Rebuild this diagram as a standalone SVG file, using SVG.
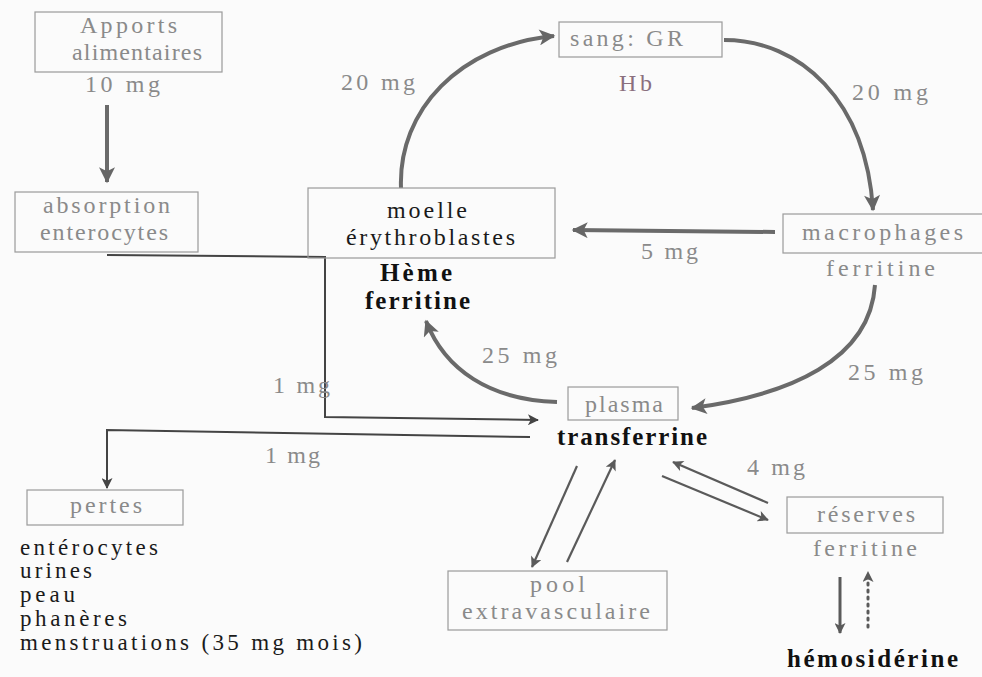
<svg xmlns="http://www.w3.org/2000/svg" width="982" height="677" viewBox="0 0 982 677" font-family="'Liberation Serif', 'Times New Roman', serif">
<defs>
<marker id="big" viewBox="0 0 12 12" refX="11" refY="6" markerWidth="18" markerHeight="16" markerUnits="userSpaceOnUse" orient="auto">
<path d="M0,0 L12,6 L0,12 L3,6 z" fill="#666"/>
</marker>
<marker id="small" viewBox="0 0 12 12" refX="11" refY="6" markerWidth="13" markerHeight="11" markerUnits="userSpaceOnUse" orient="auto">
<path d="M0,0 L12,6 L0,12 L3,6 z" fill="#5a5a5a"/>
</marker>
<marker id="dark" viewBox="0 0 12 12" refX="11" refY="6" markerWidth="14" markerHeight="11" markerUnits="userSpaceOnUse" orient="auto">
<path d="M0,0 L12,6 L0,12 L3,6 z" fill="#444"/>
</marker>
</defs>
<style>
text{font-family:'Liberation Serif','Times New Roman',serif;font-size:24px}
.g{fill:#8a8a8a}
.k{fill:#1a1a1a}
.l{fill:#1a1a1a;font-size:23px}
.b{fill:#111;font-weight:bold;font-size:25px}
.box{fill:none;stroke:#9a9a9a;stroke-width:1.2}
.arc{fill:none;stroke:#6a6a6a;stroke-width:4;marker-end:url(#big)}
.thin{fill:none;stroke:#5a5a5a;stroke-width:2.2;marker-end:url(#small)}
.line{fill:none;stroke:#444;stroke-width:2;marker-end:url(#dark)}
</style>
<rect width="982" height="677" fill="#fbfbfb"/>

<g id="connectors">
<line x1="107" y1="105" x2="107" y2="182" class="arc"/>
<path d="M401,188 C398,110 460,45 554,36" class="arc"/>
<path d="M724,40 C800,40 866,100 873,210" class="arc"/>
<line x1="775" y1="232" x2="573" y2="230" class="arc"/>
<path d="M557,402 C490,400 445,370 426,321" class="arc"/>
<path d="M875,285 C870,360 790,395 692,408" class="arc"/>
<polyline points="107,255 325,257 325,417 538,420" class="line"/>
<polyline points="530,437 107,430 107,488" class="line"/>
<line x1="577" y1="466" x2="532" y2="567" class="thin"/>
<line x1="567" y1="562" x2="615" y2="460" class="thin"/>
<line x1="768" y1="503" x2="673" y2="462" class="thin"/>
<line x1="662" y1="476" x2="768" y2="520" class="thin"/>
<line x1="840" y1="577" x2="840" y2="633" class="thin" style="stroke-width:3"/>
<line x1="868" y1="627" x2="868" y2="572" class="thin" style="stroke-width:3;stroke-dasharray:2 5;stroke-linecap:round"/>
</g>

<g id="labels">
<text x="341" y="90" class="g" textLength="74" lengthAdjust="spacing">20 mg</text>
<text x="852" y="100" class="g" textLength="76" lengthAdjust="spacing">20 mg</text>
<text x="641" y="259" class="g" textLength="57" lengthAdjust="spacing">5 mg</text>
<text x="482" y="363" class="g" textLength="75" lengthAdjust="spacing">25 mg</text>
<text x="848" y="380" class="g" textLength="75" lengthAdjust="spacing">25 mg</text>
<text x="273" y="393" class="g" textLength="57" lengthAdjust="spacing">1 mg</text>
<text x="265" y="463" class="g" textLength="55" lengthAdjust="spacing">1 mg</text>
<text x="747" y="475" class="g" textLength="58" lengthAdjust="spacing">4 mg</text>
</g>

<g id="apports">
<rect x="35" y="12" width="187" height="60" class="box"/>
<text x="80" y="33" class="g" textLength="97" lengthAdjust="spacing">Apports</text>
<text x="72" y="60" class="g" textLength="130" lengthAdjust="spacing">alimentaires</text>
<text x="85" y="92" class="g" textLength="75" lengthAdjust="spacing">10 mg</text>
</g>

<g id="absorption">
<rect x="15" y="192" width="183" height="60" class="box"/>
<text x="43" y="213" class="g" textLength="127" lengthAdjust="spacing">absorption</text>
<text x="40" y="240" class="g" textLength="128" lengthAdjust="spacing">enterocytes</text>
</g>

<g id="sang">
<rect x="559" y="22" width="163" height="35" class="box"/>
<text x="570" y="46" class="g" textLength="113" lengthAdjust="spacing">sang: GR</text>
<text x="619" y="91" fill="#8a6f7e" textLength="33" lengthAdjust="spacing">Hb</text>
</g>

<g id="moelle">
<rect x="308" y="188" width="247" height="70" class="box"/>
<text x="387" y="218" class="k" textLength="80" lengthAdjust="spacing">moelle</text>
<text x="346" y="245" class="k" textLength="169" lengthAdjust="spacing">érythroblastes</text>
<text x="380" y="281" class="b" textLength="72" lengthAdjust="spacing">Hème</text>
<text x="365" y="309" class="b" textLength="105" lengthAdjust="spacing">ferritine</text>
</g>

<g id="macrophages">
<rect x="783" y="214" width="205" height="39" class="box"/>
<text x="802" y="240" class="g" textLength="161" lengthAdjust="spacing">macrophages</text>
<text x="826" y="276" class="g" textLength="109" lengthAdjust="spacing">ferritine</text>
</g>

<g id="plasma">
<rect x="568" y="387" width="110" height="33" class="box"/>
<text x="585" y="412" class="g" textLength="78" lengthAdjust="spacing">plasma</text>
<text x="557" y="445" class="b" textLength="150" lengthAdjust="spacing">transferrine</text>
</g>

<g id="pertes">
<rect x="27" y="490" width="156" height="35" class="box"/>
<text x="70" y="513" class="g" textLength="72" lengthAdjust="spacing">pertes</text>
<text x="20" y="555" class="l" textLength="138" lengthAdjust="spacing">entérocytes</text>
<text x="20" y="578" class="l" textLength="72" lengthAdjust="spacing">urines</text>
<text x="20" y="602" class="l" textLength="55" lengthAdjust="spacing">peau</text>
<text x="20" y="626" class="l" textLength="107" lengthAdjust="spacing">phanères</text>
<text x="20" y="650" class="l" textLength="342" lengthAdjust="spacing">menstruations (35 mg mois)</text>
</g>

<g id="reserves">
<rect x="787" y="497" width="156" height="36" class="box"/>
<text x="817" y="522" class="g" textLength="98" lengthAdjust="spacing">réserves</text>
<text x="813" y="556" class="g" textLength="104" lengthAdjust="spacing">ferritine</text>
</g>

<g id="pool">
<rect x="448" y="571" width="219" height="59" class="box"/>
<text x="530" y="592" class="g" textLength="55" lengthAdjust="spacing">pool</text>
<text x="462" y="619" class="g" textLength="188" lengthAdjust="spacing">extravasculaire</text>
</g>

<g id="hemosiderine">
<text x="787" y="667" class="b" textLength="171" lengthAdjust="spacing">hémosidérine</text>
</g>
</svg>
